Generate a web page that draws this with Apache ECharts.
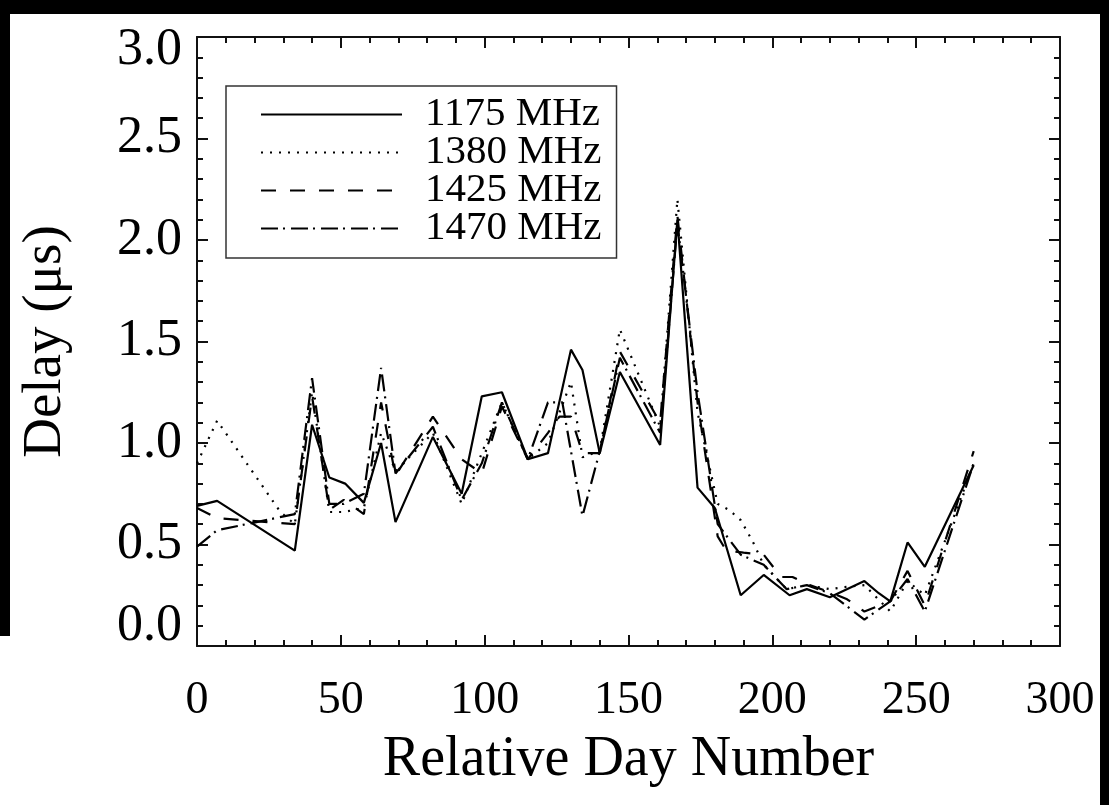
<!DOCTYPE html>
<html>
<head>
<meta charset="utf-8">
<script src="https://cdn.jsdelivr.net/npm/echarts@6/dist/echarts.min.js"></script>
<style>
html,body{margin:0;padding:0;background:#fff;width:1109px;height:805px;overflow:hidden;}
#chart{position:absolute;left:0;top:0;width:1109px;height:805px;}
.edge{position:absolute;background:#000;z-index:5;}
</style>
</head>
<body>
<div id="chart"></div>
<div class="edge" style="left:0;top:0;width:1109px;height:14px;"></div>
<div class="edge" style="left:0;top:0;width:10px;height:636px;"></div>
<div class="edge" style="left:1100px;top:0;width:9px;height:805px;"></div>
<script>
// ---- data ----
const seriesNames = ['1175 MHz', '1380 MHz', '1425 MHz', '1470 MHz'];

const days1175 = [0, 7, 34, 40, 46, 51.5, 58, 64, 69, 82, 92, 99, 106, 115, 122, 130, 134, 140, 147, 161, 167, 174, 180, 189, 197, 206, 212, 220, 232, 237, 241, 247, 253, 270];
const vals1175 = [0.69, 0.715, 0.47, 1.09, 0.83, 0.80, 0.705, 1.00, 0.61, 1.03, 0.75, 1.23, 1.25, 0.92, 0.95, 1.46, 1.36, 0.95, 1.35, 0.99, 2.10, 0.78, 0.68, 0.25, 0.35, 0.25, 0.28, 0.24, 0.32, 0.26, 0.22, 0.51, 0.39, 0.89];

const days1380 = [0, 7, 29, 34, 40, 46, 51, 58, 64, 69, 82, 92, 99, 106, 115, 122, 130, 134, 140, 147, 161, 167, 174, 181, 185, 189, 193, 197, 205, 212, 220, 225, 232, 241, 247, 253, 270];
const vals1380 = [0.90, 1.11, 0.66, 0.60, 1.25, 0.66, 0.66, 0.68, 1.05, 0.86, 1.05, 0.70, 0.95, 1.20, 0.92, 1.00, 1.30, 0.93, 0.96, 1.56, 1.08, 2.20, 1.15, 0.70, 0.67, 0.62, 0.52, 0.40, 0.28, 0.30, 0.28, 0.29, 0.30, 0.17, 0.32, 0.25, 0.90];

const days1425 = [0, 7, 34, 40, 46, 51, 58, 64, 69, 82, 92, 99, 106, 115, 122, 126, 130, 134, 140, 147, 161, 167, 174, 181, 184, 190, 197, 203, 207, 213, 221, 226, 232, 241, 247, 253, 270];
const vals1425 = [0.68, 0.63, 0.60, 1.23, 0.67, 0.72, 0.65, 1.20, 0.84, 1.13, 0.92, 0.85, 1.18, 0.92, 1.05, 1.13, 1.13, 0.95, 0.95, 1.45, 1.10, 2.12, 1.20, 0.54, 0.47, 0.46, 0.45, 0.34, 0.34, 0.30, 0.26, 0.23, 0.17, 0.22, 0.37, 0.20, 0.96];

const days1470 = [0, 7, 34, 40, 46, 51, 58, 64, 69, 82, 92, 99, 106, 115, 122, 127, 134, 140, 147, 161, 167, 174, 181, 189, 197, 205, 212, 220, 232, 241, 247, 253, 270];
const vals1470 = [0.49, 0.57, 0.65, 1.32, 0.70, 0.70, 0.75, 1.37, 0.85, 1.08, 0.72, 0.90, 1.20, 0.92, 1.20, 1.20, 0.64, 0.96, 1.42, 1.05, 2.08, 1.25, 0.60, 0.45, 0.40, 0.28, 0.30, 0.26, 0.13, 0.22, 0.33, 0.17, 0.90];

const xTicks = { min: 0, max: 300, interval: 50 };
const yTicks = { min: 0, max: 3, interval: 0.5 };

// ---- build ----
const allDays = [days1175, days1380, days1425, days1470];
const allVals = [vals1175, vals1380, vals1425, vals1470];
const dashTypes = ['solid', [2, 7], [15, 14], [17, 5, 2, 6]];

const FONT = '"Liberation Serif", "Times New Roman", serif';
const AX = '#111';

function pairs(d, v) { return d.map((x, i) => [x, v[i]]); }

const baseX = {
  type: 'value', min: xTicks.min, max: xTicks.max, interval: xTicks.interval,
  splitLine: { show: false },
  axisLine: { show: true, onZero: false, lineStyle: { color: AX, width: 2 } },
  axisTick: { show: true, inside: true, length: 11, lineStyle: { color: AX, width: 2 } },
  minorTick: { show: true, splitNumber: 5, length: 6, lineStyle: { color: AX, width: 2 } }
};
const baseY = {
  type: 'value', min: yTicks.min, max: yTicks.max, interval: yTicks.interval,
  splitLine: { show: false },
  axisLine: { show: true, onZero: false, lineStyle: { color: AX, width: 2 } },
  axisTick: { show: true, inside: true, length: 11, lineStyle: { color: AX, width: 2 } },
  minorTick: { show: true, splitNumber: 5, length: 6, lineStyle: { color: AX, width: 2 } }
};

const option = {
  backgroundColor: '#fff',
  animation: false,
  textStyle: { fontFamily: FONT },
  grid: { left: 197, top: 37, right: 49, bottom: 159, containLabel: false },
  legend: {
    orient: 'vertical',
    left: 226, top: 86,
    data: seriesNames,
    itemWidth: 141, itemHeight: 37, itemGap: -3,
    padding: [8, 15, 9, 34],
    borderColor: '#333', borderWidth: 1.5,
    itemStyle: { opacity: 0 },
    textStyle: { fontFamily: FONT, fontSize: 41, color: '#000', padding: [0, 0, 0, 18] }
  },
  xAxis: [
    Object.assign({}, baseX, {
      position: 'bottom',
      name: 'Relative Day Number', nameLocation: 'middle', nameGap: 86,
      nameTextStyle: { fontFamily: FONT, fontSize: 56, color: '#000' },
      axisLabel: { fontFamily: FONT, fontSize: 46, color: '#000', margin: 32 }
    }),
    Object.assign({}, baseX, { position: 'top', axisLabel: { show: false } })
  ],
  yAxis: [
    Object.assign({}, baseY, {
      position: 'left',
      name: 'Delay (μs)', nameLocation: 'middle', nameGap: 124, nameRotate: 90,
      nameTextStyle: { fontFamily: FONT, fontSize: 55, color: '#000' },
      axisLabel: {
        fontFamily: FONT, fontSize: 52, color: '#000', margin: 15,
        formatter: v => v === yTicks.max ? '{t|' + v.toFixed(1) + '}' : (v === yTicks.min ? '{b|' + v.toFixed(1) + '}' : v.toFixed(1)),
        rich: {
          t: { fontFamily: FONT, fontSize: 52, color: '#000', padding: [26, 0, 0, 0] },
          b: { fontFamily: FONT, fontSize: 52, color: '#000', padding: [0, 0, 40, 0] }
        }
      }
    }),
    Object.assign({}, baseY, { position: 'right', axisLabel: { show: false } })
  ],
  series: seriesNames.map((n, i) => ({
    name: n, type: 'line', xAxisIndex: 0, yAxisIndex: 0,
    data: pairs(allDays[i], allVals[i]),
    symbol: 'none', smooth: false,
    lineStyle: { color: '#000', width: 2.2, type: dashTypes[i] },
    itemStyle: { color: '#000' },
    emphasis: { disabled: true }
  }))
};

const chart = echarts.init(document.getElementById('chart'), null, { renderer: 'canvas' });
chart.setOption(option);
</script>
</body>
</html>
